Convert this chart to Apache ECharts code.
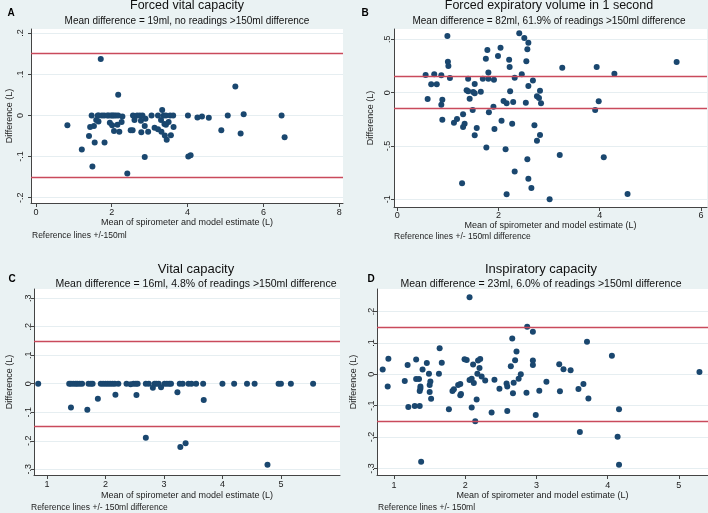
<!DOCTYPE html>
<html>
<head>
<meta charset="utf-8">
<title>Spirometer vs model estimate</title>
<script src="https://cdn.jsdelivr.net/npm/echarts@6/dist/echarts.min.js"></script>
<style>
  html, body { margin: 0; padding: 0; background: #eaf2f3; }
  #chart { width: 708px; height: 513px; }
</style>
</head>
<body>
<div id="chart"></div>
<script>
// A — forced vital capacity
const fvcMean = [0.83, 1.21, 1.40, 1.43, 1.47, 1.49, 1.53, 1.55, 1.59, 1.63, 1.65, 1.66, 1.71, 1.74, 1.80, 1.81, 1.88, 1.92, 1.95, 1.98,
  2.01, 2.02, 2.06, 2.06, 2.11, 2.15, 2.17, 2.17, 2.20, 2.26, 2.28, 2.41, 2.50, 2.55, 2.56, 2.60, 2.67, 2.74, 2.77, 2.78,
  2.81, 2.87, 2.87, 2.89, 2.96, 3.05, 3.13, 3.22, 3.22, 3.30, 3.31, 3.33, 3.37, 3.39, 3.40, 3.43, 3.43, 3.45, 3.50, 3.54,
  3.56, 3.62, 3.63, 4.01, 4.02, 4.08, 4.26, 4.38, 4.56, 4.89, 5.06, 5.26, 5.40, 5.48, 6.48, 6.56]
const fvcDiff = [-0.024, -0.083, -0.050, -0.028, 0, -0.124, -0.026, -0.066, -0.011, 0, -0.015, 0, 0.137, 0, 0, -0.066, 0, 0, -0.018, 0,
  -0.024, 0, -0.038, 0, 0, -0.023, 0.050, 0, -0.040, -0.016, -0.003, -0.141, -0.036, -0.036, 0, -0.011, 0, 0, -0.013, -0.041,
  0, -0.026, -0.101, -0.008, -0.040, 0, -0.030, 0, -0.034, -0.011, -0.040, 0.013, 0, -0.021, -0.049, -0.023, 0, -0.059, -0.016, 0,
  -0.048, 0, -0.028, 0, -0.100, -0.097, -0.005, -0.003, -0.006, -0.036, 0, 0.070, -0.044, 0.003, 0, -0.053]

// B — forced expiratory volume in 1 second
const fevMean = [0.56, 0.60, 0.67, 0.73, 0.78, 0.87, 0.87, 0.89, 0.89, 0.99, 1.00, 1.01, 1.04, 1.12, 1.18, 1.28, 1.30, 1.30, 1.33, 1.37,
  1.40, 1.40, 1.43, 1.49, 1.50, 1.53, 1.53, 1.53, 1.57, 1.65, 1.69, 1.75, 1.76, 1.78, 1.80, 1.80, 1.81, 1.90, 1.91, 1.92,
  1.99, 2.04, 2.06, 2.10, 2.14, 2.16, 2.16, 2.21, 2.22, 2.23, 2.27, 2.29, 2.32, 2.32, 2.41, 2.46, 2.51, 2.54, 2.55, 2.57,
  2.57, 2.59, 2.59, 2.59, 2.65, 2.68, 2.71, 2.76, 2.76, 2.80, 2.82, 2.82, 2.84, 3.01, 3.21, 3.26, 3.91, 3.94, 3.98, 4.08,
  4.29, 4.55, 5.52]
const fevDiff = [0.166, -0.059, 0.078, 0.172, 0.078, 0.163, -0.113, -0.066, -0.253, 0.531, 0.291, 0.250, 0.138, -0.281, -0.247, -0.850, -0.203, -0.322, -0.291, 0.022,
  0.131, 0.013, -0.056, -0.163, 0.006, -0.006, 0.081, -0.400, -0.331, 0.009, 0.131, 0.319, -0.513, 0.400, 0.188, 0.131, -0.184, -0.131, 0.122, -0.341,
  0.344, 0.422, -0.263, -0.078, -0.531, -0.100, -0.953, 0.309, 0.241, 0.013, -0.291, -0.088, 0.141, -0.738, 0.556, 0.172, 0.513, -0.094, 0.294, 0.406,
  -0.625, 0.469, 0.063, -0.806, -0.894, 0.113, -0.306, -0.450, -0.034, -0.050, 0.019, -0.397, -0.100, -1.000, -0.584, 0.234, -0.163, 0.241, -0.081, -0.606,
  0.178, -0.950, 0.288]

// C — vital capacity
const vcMean = [0.85, 1.38, 1.41, 1.45, 1.49, 1.52, 1.56, 1.60, 1.71, 1.75, 1.78, 1.92, 1.96, 2.00, 2.04, 2.08, 2.12, 2.16, 2.22, 2.36,
  2.48, 2.52, 2.55, 2.69, 2.74, 2.84, 2.87, 2.91, 3.01, 3.05, 3.09, 3.12, 3.27, 3.32, 3.42, 3.47, 3.55, 3.67, 4.00, 4.20,
  4.42, 4.55, 4.96, 5.00, 5.17, 5.55, 2.43, 1.41, 1.69, 1.87, 2.17, 2.53, 2.69, 2.81, 2.95, 3.23, 3.28, 3.37, 3.68, 4.77]
const vcDiff = [0, 0, 0, 0, 0, 0, 0, 0, 0, 0, 0, 0, 0, 0, 0, 0, 0, 0, 0, 0,
  0, 0, 0, 0, 0, 0, 0, 0, 0, 0, 0, 0, 0, 0, 0, 0, 0, 0, 0, 0,
  0, 0, 0, 0, 0, 0, -0.002, -0.083, -0.091, -0.053, -0.039, -0.040, -0.189, -0.014, -0.012, -0.030, -0.222, -0.209, -0.057, -0.284]

// D — inspiratory capacity
const icMean = [0.84, 0.91, 0.92, 1.15, 1.19, 1.20, 1.29, 1.31, 1.31, 1.35, 1.36, 1.36, 1.37, 1.37, 1.38, 1.40, 1.46, 1.49, 1.50, 1.50,
  1.51, 1.52, 1.63, 1.64, 1.67, 1.77, 1.82, 1.84, 1.90, 1.93, 1.93, 1.94, 1.99, 2.02, 2.06, 2.06, 2.09, 2.09, 2.11, 2.12,
  2.14, 2.16, 2.17, 2.18, 2.21, 2.20, 2.23, 2.28, 2.37, 2.41, 2.48, 2.58, 2.59, 2.59, 2.64, 2.66, 2.67, 2.68, 2.70, 2.72,
  2.75, 2.78, 2.86, 2.87, 2.95, 2.95, 2.95, 2.99, 3.04, 3.14, 3.32, 3.33, 3.38, 3.48, 3.59, 3.61, 3.66, 3.71, 3.73, 4.06,
  4.14, 4.16, 4.16, 5.29]
const icDiff = [0.015, -0.039, 0.050, -0.021, 0.030, -0.104, -0.101, 0.047, -0.015, -0.015, -0.053, -0.101, -0.045, -0.039, -0.279, 0.015, 0.036, 0.002, -0.034, -0.056,
  -0.023, -0.078, 0.002, 0.083, 0.037, -0.111, -0.053, -0.048, -0.034, -0.031, -0.067, -0.063, 0.048, 0.046, -0.018, 0.246, -0.014, -0.106, 0.031, -0.028,
  -0.150, -0.080, 0.002, 0.044, 0.049, 0.020, -0.007, -0.020, -0.122, -0.017, -0.046, -0.029, -0.039, -0.117, 0.026, 0.114, -0.060, -0.027, 0.045, 0.073,
  -0.014, 0.000, -0.059, 0.152, 0.136, 0.044, 0.030, -0.130, -0.052, -0.024, 0.032, -0.054, 0.016, 0.013, -0.047, -0.184, -0.031, 0.104, -0.077, 0.059,
  -0.199, -0.111, -0.288, 0.007]

const titles    = ['Forced vital capacity', 'Forced expiratory volume in 1 second', 'Vital capacity', 'Inspiratory capacity']
const subtitles = [
  'Mean difference = 19ml, no readings >150ml difference',
  'Mean difference = 82ml, 61.9% of readings >150ml difference',
  'Mean difference = 16ml, 4.8% of readings >150ml difference',
  'Mean difference = 23ml, 6.0% of readings >150ml difference',
]
const letters = ['A', 'B', 'C', 'D']
const notes = [
  'Reference lines +/-150ml',
  'Reference lines +/- 150ml difference',
  'Reference lines +/- 150ml difference',
  'Reference lines +/- 150ml',
]
const xTicks = [[0, 2, 4, 6, 8], [0, 2, 4, 6], [1, 2, 3, 4, 5], [1, 2, 3, 4, 5]]
const yTicks = [[-0.2, -0.1, 0, 0.1, 0.2], [-1, -0.5, 0, 0.5], [-0.3, -0.2, -0.1, 0, 0.1, 0.2, 0.3], [-0.3, -0.2, -0.1, 0, 0.1, 0.2]]
const refLimit = 0.15
const xName = 'Mean of spirometer and model estimate (L)'
const yName = 'Difference (L)'

const FONT  = "'Liberation Sans', Arial, sans-serif"
const NAVY  = '#1a476f'
const REF   = '#c94a5c'
const INK   = '#222'

// layout per panel (pixels)
const layout = [
  { grid: { left: 31, top: 29, width: 312, height: 174 }, x: [-0.13, 8.1], y: [-0.213, 0.21],
    yMargin: 5.5, yGap: 17, xMargin: 5, xGap: 15, cx: 187, ty: 6, sy: 21, tSize: 12.5, sSize: 10,
    letter: [11, 13], note: [32, 236] },
  { grid: { left: 394, top: 29, width: 313, height: 178 }, x: [-0.065, 6.12], y: [-1.072, 0.597],
    yMargin: 1.5, yGap: 19, xMargin: 4.5, xGap: 14.5, cx: 549, ty: 6, sy: 21, tSize: 12.5, sSize: 10,
    letter: [365, 13], note: [394, 237] },
  { grid: { left: 34, top: 289, width: 306, height: 186 }, x: [0.778, 6.01], y: [-0.32, 0.332],
    yMargin: 1, yGap: 19.5, xMargin: 5.5, xGap: 16, cx: 196, ty: 269, sy: 284, tSize: 13, sSize: 10.5,
    letter: [12, 279], note: [31, 508] },
  { grid: { left: 377, top: 289, width: 331, height: 186 }, x: [0.76, 5.41], y: [-0.321, 0.272],
    yMargin: 1, yGap: 18.5, xMargin: 6, xGap: 16, cx: 541, ty: 269, sy: 284, tSize: 13, sSize: 10.5,
    letter: [371, 279], note: [378, 508] },
]

const means = [fvcMean, fevMean, vcMean, icMean]
const diffs = [fvcDiff, fevDiff, vcDiff, icDiff]

// Stata style labels: .1 / -.2
const fmtTick = v => String(Math.round(v * 10) / 10).replace(/^(-?)0\./, '$1.')

const grid = [], xAxis = [], yAxis = [], series = [], graphic = []

layout.forEach((L, i) => {
  grid.push({ ...L.grid, show: true, backgroundColor: '#fff', borderWidth: 0, containLabel: false })
  xAxis.push({
    gridIndex: i, type: 'value', min: L.x[0], max: L.x[1],
    name: xName, nameLocation: 'middle', nameGap: L.xGap,
    nameTextStyle: { fontFamily: FONT, fontSize: 9, color: INK },
    axisLine: { show: true, onZero: false, lineStyle: { color: '#444', width: 1 } },
    axisTick: { show: true, length: 4, customValues: xTicks[i], lineStyle: { color: '#444' } },
    axisLabel: { customValues: xTicks[i], margin: L.xMargin, fontFamily: FONT, fontSize: 9, color: INK },
    splitLine: { show: false },
  })
  yAxis.push({
    gridIndex: i, type: 'value', min: L.y[0], max: L.y[1],
    name: yName, nameLocation: 'middle', nameGap: L.yGap, nameRotate: 90,
    nameTextStyle: { fontFamily: FONT, fontSize: 9, color: INK },
    axisLine: { show: true, onZero: false, lineStyle: { color: '#444', width: 1 } },
    axisTick: { show: true, length: 3, customValues: yTicks[i], lineStyle: { color: '#444' } },
    axisLabel: { customValues: yTicks[i], rotate: 90, margin: L.yMargin, formatter: fmtTick,
      fontFamily: FONT, fontSize: 9, color: INK },
    splitLine: { show: true, lineStyle: { color: '#e6eef1', width: 1 } },
  })
  series.push({
    type: 'scatter', xAxisIndex: i, yAxisIndex: i,
    data: means[i].map((m, k) => [m, diffs[i][k]]),
    symbol: 'circle', symbolSize: 6,
    itemStyle: { color: NAVY, opacity: 1 },
    emphasis: { disabled: true },
    markLine: {
      silent: true, symbol: ['none', 'none'], label: { show: false },
      lineStyle: { color: REF, width: 1.3, type: 'solid' },
      data: [{ yAxis: refLimit }, { yAxis: -refLimit }],
    },
  })
  graphic.push(
    { type: 'text', style: { text: titles[i], x: L.cx, y: L.ty, textAlign: 'center', textVerticalAlign: 'middle',
      font: `${L.tSize}px ${FONT}`, fill: '#111' } },
    { type: 'text', style: { text: subtitles[i], x: L.cx, y: L.sy, textAlign: 'center', textVerticalAlign: 'middle',
      font: `${L.sSize}px ${FONT}`, fill: '#111' } },
    { type: 'text', style: { text: letters[i], x: L.letter[0], y: L.letter[1], textAlign: 'center', textVerticalAlign: 'middle',
      font: `bold 10px ${FONT}`, fill: '#000' } },
    { type: 'text', style: { text: notes[i], x: L.note[0], y: L.note[1], textAlign: 'left', textVerticalAlign: 'middle',
      font: `8.5px ${FONT}`, fill: INK } },
  )
})

const chart = echarts.init(document.getElementById('chart'), null, { renderer: 'canvas' })
chart.setOption({
  backgroundColor: '#eaf2f3',
  animation: false,
  grid, xAxis, yAxis, series, graphic,
})
</script>
</body>
</html>
